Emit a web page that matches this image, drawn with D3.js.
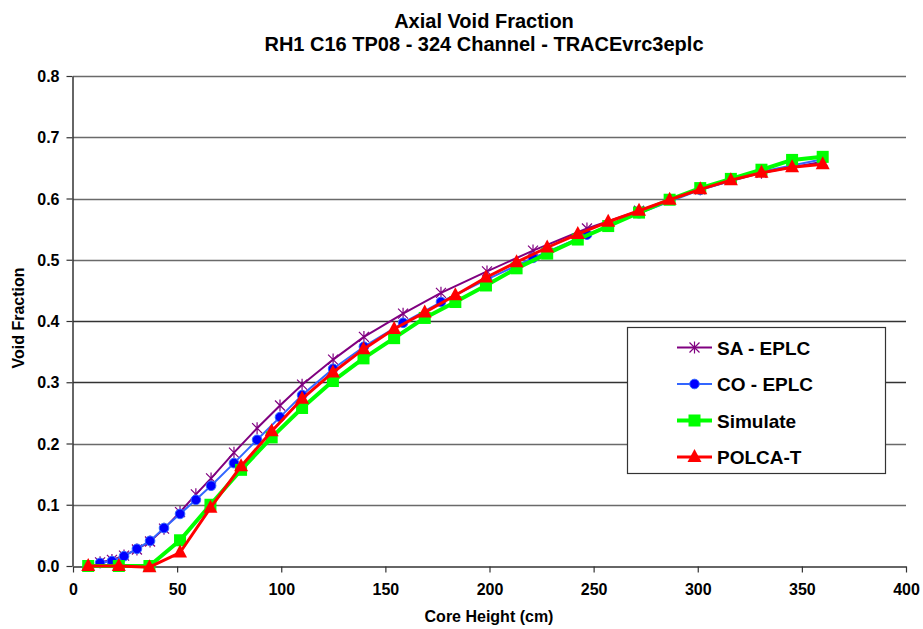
<!DOCTYPE html>
<html>
<head>
<meta charset="utf-8">
<script src="https://cdn.jsdelivr.net/npm/d3@7"></script>
<style>
  body { margin: 0; background: #fff; }
  text { font-family: "Liberation Sans", Arial, sans-serif; font-weight: bold; }
</style>
</head>
<body>
<div id="chart"></div>
<script>
/* Data */
const saHeight = [13, 18.7, 24.5, 30.7, 37, 43.7, 51.4, 59, 66.3, 77.3, 88.4, 99.4, 110, 124.9, 139.7, 158.5, 176.7, 198.8, 220.9, 246.8, 271.8, 301.2, 330.6, 360];
const saVoid   = [0.006, 0.01, 0.017, 0.027, 0.04, 0.061, 0.088, 0.117, 0.143, 0.185, 0.225, 0.262, 0.296, 0.337, 0.374, 0.412, 0.446, 0.481, 0.515, 0.551, 0.58, 0.615, 0.642, 0.66];

const coHeight = [13, 18.7, 24.5, 30.7, 37, 43.7, 51.4, 59, 66.3, 77.3, 88.4, 99.4, 110, 124.9, 139.7, 158.5, 176.7, 198.8, 220.9, 246.8, 271.8, 301.2, 330.6, 360];
const coVoid   = [0.005, 0.008, 0.016, 0.028, 0.041, 0.062, 0.085, 0.108, 0.131, 0.168, 0.206, 0.243, 0.279, 0.322, 0.358, 0.397, 0.431, 0.468, 0.503, 0.541, 0.576, 0.614, 0.644, 0.664];

const simHeight = [7.3, 22, 36.7, 51.4, 66, 80.7, 95.4, 110, 124.8, 139.5, 154.2, 168.9, 183.6, 198.3, 213, 227.7, 242.4, 257, 271.8, 286.5, 301.2, 315.9, 330.6, 345.3, 360];
const simVoid   = [0.0, 0.0, 0.0, 0.042, 0.1, 0.157, 0.21, 0.258, 0.302, 0.339, 0.372, 0.405, 0.431, 0.458, 0.486, 0.51, 0.533, 0.555, 0.577, 0.598, 0.617, 0.632, 0.647, 0.663, 0.668];

const polHeight = [7.3, 22, 36.7, 51.4, 66, 80.7, 95.4, 110, 124.8, 139.5, 154.2, 168.9, 183.6, 198.3, 213, 227.7, 242.4, 257, 271.8, 286.5, 301.2, 315.9, 330.6, 345.3, 360];
const polVoid   = [0.0, 0.0, -0.002, 0.022, 0.095, 0.163, 0.22, 0.273, 0.316, 0.354, 0.387, 0.414, 0.442, 0.471, 0.496, 0.52, 0.542, 0.562, 0.58, 0.598, 0.615, 0.63, 0.642, 0.651, 0.656];

const xTicks = [0, 50, 100, 150, 200, 250, 300, 350, 400];
const yTicks = [0, 0.1, 0.2, 0.3, 0.4, 0.5, 0.6, 0.7, 0.8];

const series = [
    {name: 'SA - EPLC', xs: saHeight, ys: saVoid, color: '#800080', width: 2, marker: 'star'},
    {name: 'CO - EPLC', xs: coHeight, ys: coVoid, color: '#3366ff', width: 2, marker: 'dot'},
    {name: 'Simulate', xs: simHeight, ys: simVoid, color: '#00ff00', width: 4, marker: 'square'},
    {name: 'POLCA-T', xs: polHeight, ys: polVoid, color: '#ff0000', width: 3, marker: 'triangle'}
];

const W = 923, H = 629;
const margin = {top: 76, right: 17, bottom: 63, left: 73};

const svg = d3.select('#chart').append('svg')
    .attr('width', W)
    .attr('height', H);

const x = d3.scaleLinear().domain([0, 400]).range([margin.left, W - margin.right]);
const y = d3.scaleLinear().domain([0, 0.8]).range([H - margin.bottom, margin.top]);

/* Gridlines */
svg.append('g').selectAll('line')
    .data(yTicks.filter(d => d > 0))
    .join('line')
    .attr('x1', x(0)).attr('x2', x(400))
    .attr('y1', d => Math.round(y(d)) + 0.5).attr('y2', d => Math.round(y(d)) + 0.5)
    .attr('stroke', d => d === 0.4 || d === 0.3 ? '#333' : '#6a6a6a')
    .attr('stroke-width', 1.5);

/* Axes */
const xAxis = svg.append('g')
    .attr('transform', `translate(0,${Math.round(y(0)) + 0.5})`)
    .call(d3.axisBottom(x).tickValues(xTicks).tickSize(6).tickSizeOuter(0).tickPadding(11).tickFormat(d3.format('d')));
const yAxis = svg.append('g')
    .attr('transform', `translate(${Math.round(x(0)) - 0.5},0)`)
    .call(d3.axisLeft(y).tickValues(yTicks).tickSize(6).tickSizeOuter(0).tickPadding(7).tickFormat(d3.format('.1f')));

[xAxis, yAxis].forEach(a => {
    a.select('.domain').attr('stroke', '#333').attr('stroke-width', 1.5);
    a.selectAll('.tick line').attr('stroke', '#333').attr('stroke-width', 1.2);
    a.selectAll('.tick text').attr('font-size', 16).attr('fill', '#000')
        .attr('font-family', '"Liberation Sans", Arial, sans-serif');
});
yAxis.selectAll('.tick text').attr('dy', '0.35em');

/* Markers */
function drawMarker(g, type, color) {
    if (type === 'star') {
        const r = 5;
        g.append('path')
            .attr('d', `M${-r},${-r}L${r},${r}M${-r},${r}L${r},${-r}M0,${-r - 1}L0,${r + 1}`)
            .attr('stroke', color).attr('stroke-width', 1.2).attr('fill', 'none');
    } else if (type === 'dot') {
        g.append('circle').attr('r', 4.8).attr('fill', '#0000ff').attr('stroke', '#3366ff').attr('stroke-width', 1);
    } else if (type === 'square') {
        g.append('rect').attr('x', -6).attr('y', -6).attr('width', 12).attr('height', 12).attr('fill', color);
    } else if (type === 'triangle') {
        g.append('path').attr('d', 'M0,-8L7,5L-7,5Z').attr('fill', color);
    }
}

const line = d3.line();
series.forEach(s => {
    const pts = s.xs.map((v, i) => [x(v), y(s.ys[i])]);
    const g = svg.append('g');
    g.append('path')
        .attr('d', line(pts))
        .attr('fill', 'none')
        .attr('stroke', s.color)
        .attr('stroke-width', s.width)
        .attr('stroke-linejoin', 'round');
    pts.forEach(p => {
        drawMarker(g.append('g').attr('transform', `translate(${p[0]},${p[1]})`), s.marker, s.color);
    });
});

/* Titles */
svg.append('text').attr('x', 484).attr('y', 28).attr('text-anchor', 'middle')
    .attr('font-size', 20).text('Axial Void Fraction');
svg.append('text').attr('x', 484).attr('y', 51).attr('text-anchor', 'middle')
    .attr('font-size', 20).text('RH1 C16 TP08 - 324 Channel - TRACEvrc3eplc');
svg.append('text').attr('x', 489).attr('y', 622).attr('text-anchor', 'middle')
    .attr('font-size', 16).text('Core Height (cm)');
svg.append('text').attr('transform', 'translate(24,318) rotate(-90)').attr('text-anchor', 'middle')
    .attr('font-size', 16).text('Void Fraction');

/* Legend */
const legend = svg.append('g');
legend.append('rect')
    .attr('x', 627.5).attr('y', 327.5).attr('width', 258).attr('height', 146)
    .attr('fill', '#fff').attr('stroke', '#333').attr('stroke-width', 1.2);
series.forEach((s, i) => {
    const ly = 347.5 + i * 36.5;
    const g = legend.append('g').attr('transform', `translate(0,${ly})`);
    g.append('line').attr('x1', 677).attr('x2', 712).attr('stroke', s.color).attr('stroke-width', s.width);
    drawMarker(g.append('g').attr('transform', 'translate(694.5,0)'), s.marker, s.color);
    g.append('text').attr('x', 717).attr('dy', '0.37em').attr('font-size', 19).text(s.name);
});
</script>
</body>
</html>
